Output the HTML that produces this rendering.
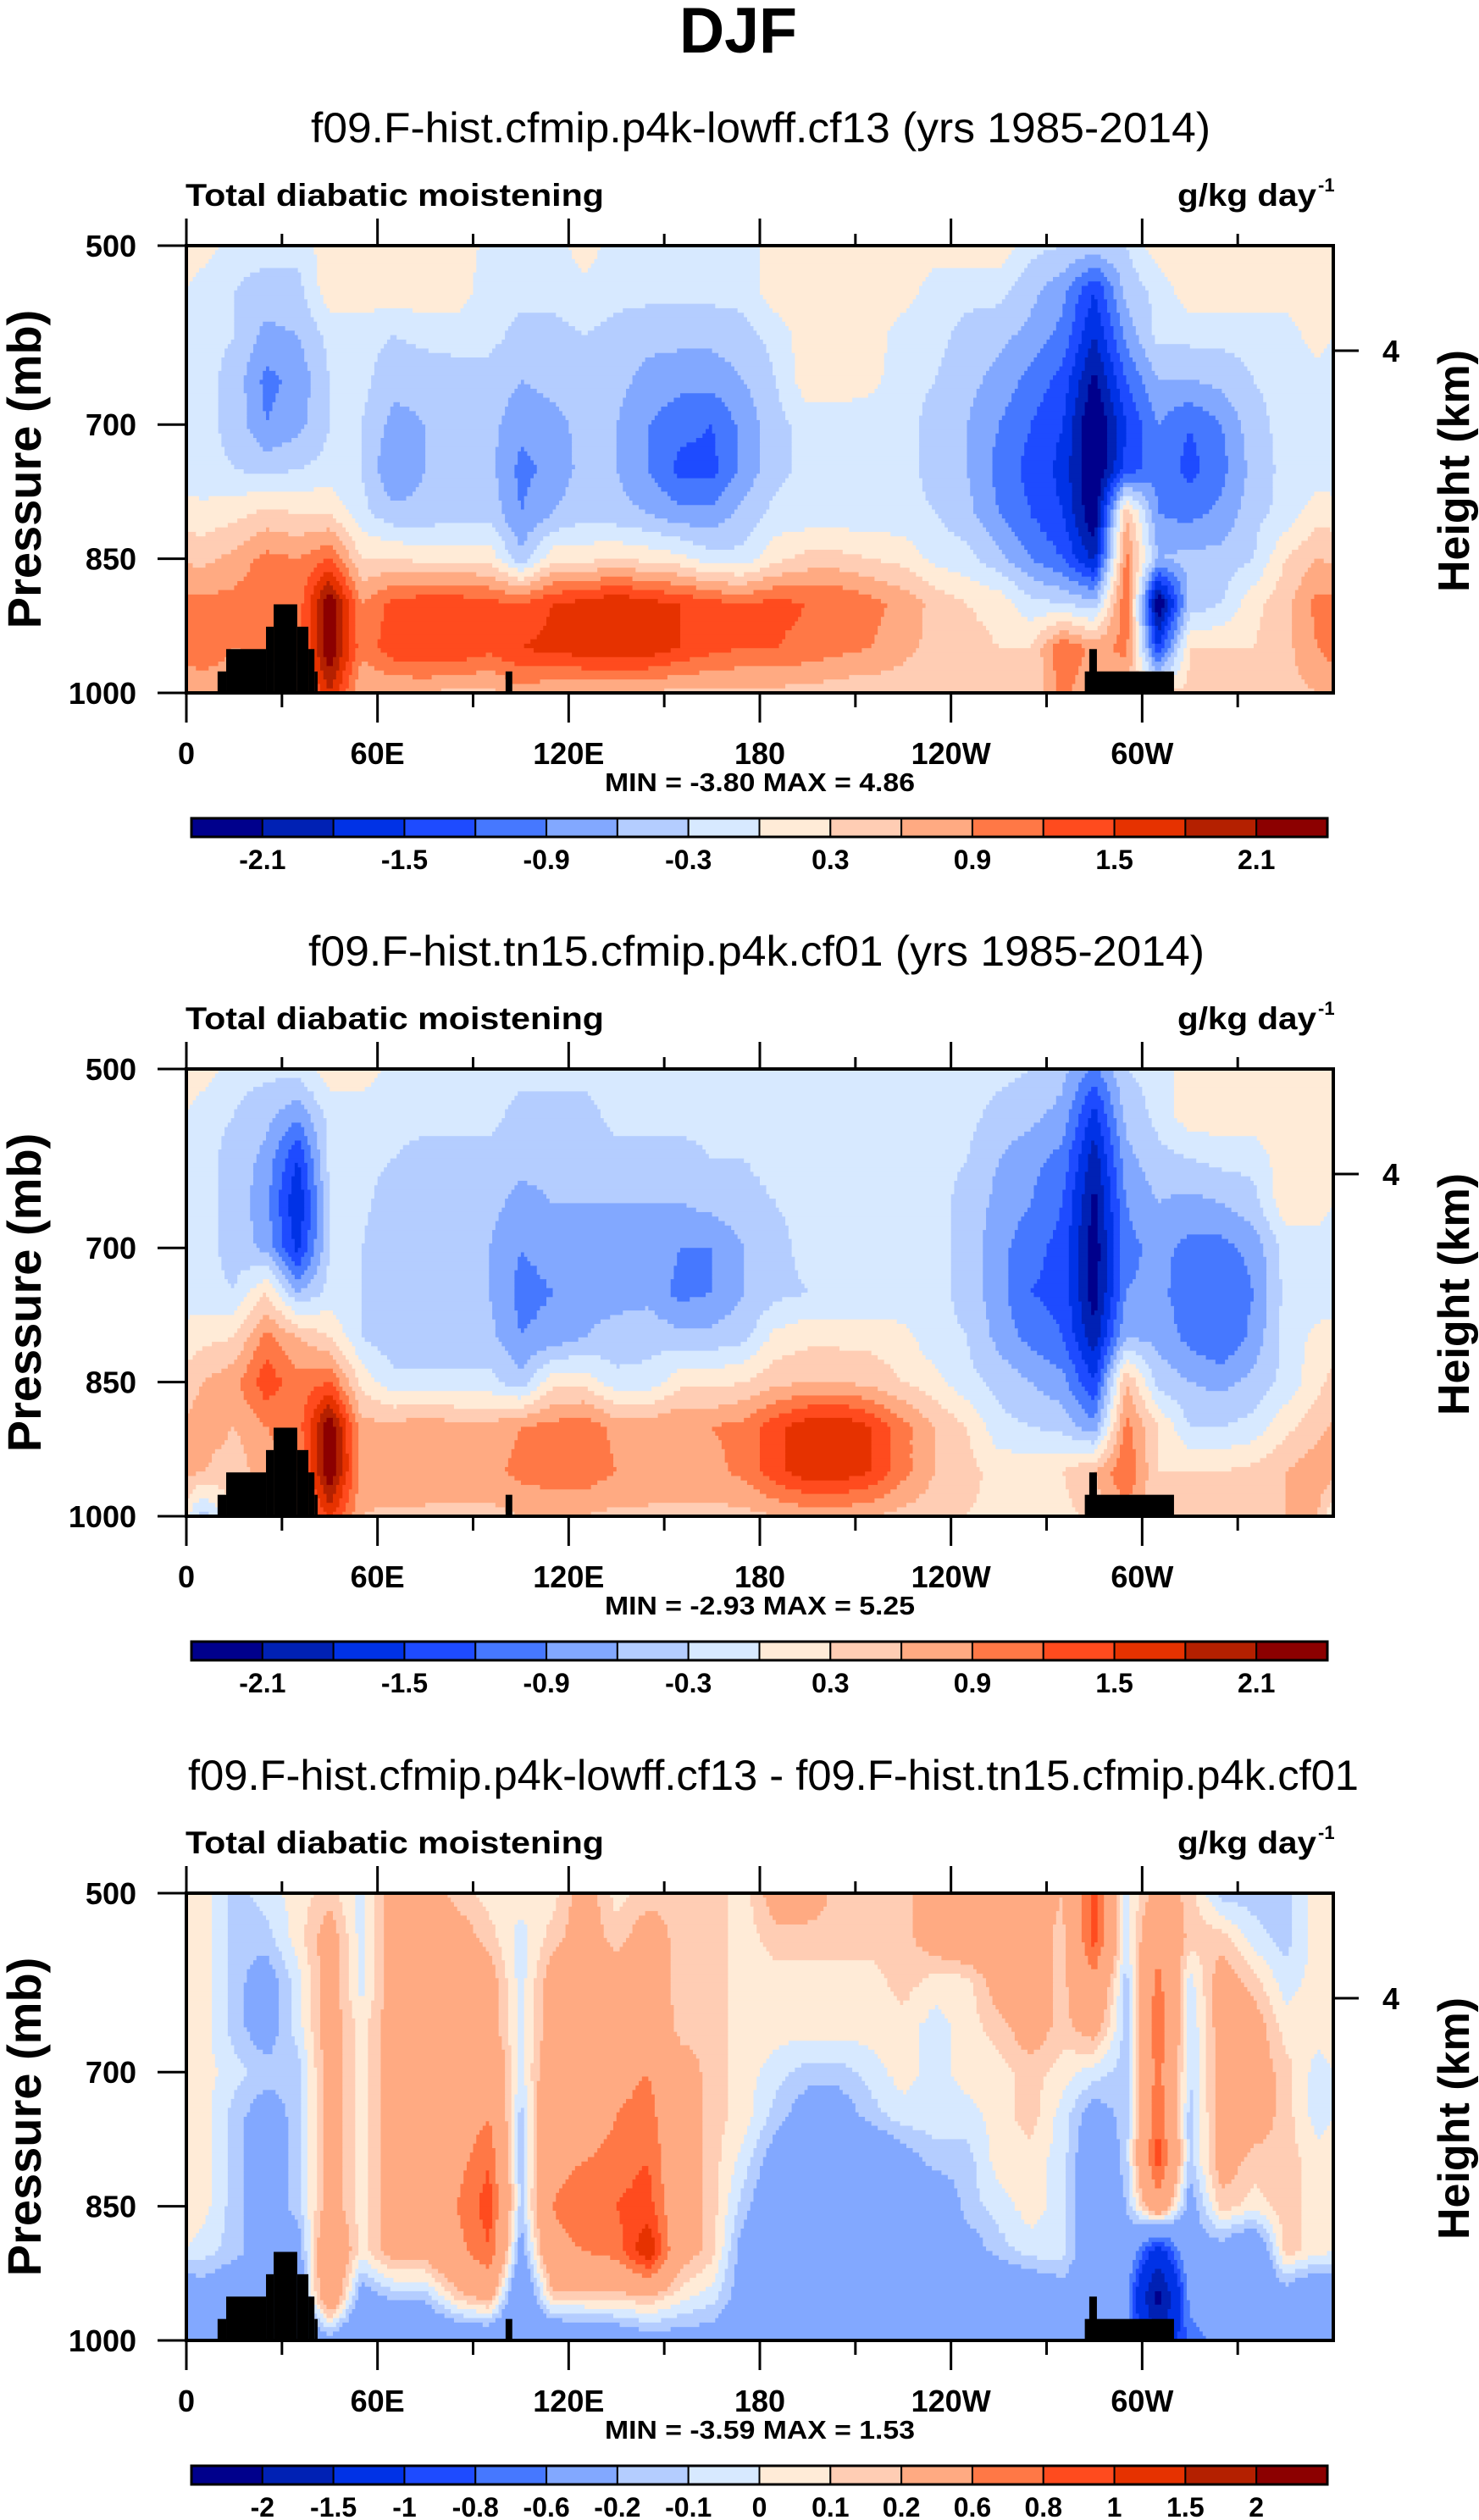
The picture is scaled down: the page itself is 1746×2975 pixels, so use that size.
<!DOCTYPE html>
<html><head><meta charset="utf-8">
<style>
html,body{margin:0;padding:0;background:#fff;}
svg{display:block;}
text{font-family:"Liberation Sans",sans-serif;fill:#000;}
</style></head>
<body>
<svg id="fig" width="1746" height="2975" viewBox="0 0 1746 2975" xmlns="http://www.w3.org/2000/svg">
<rect x="0" y="0" width="1746" height="2975" fill="#fff"/>
<text x="802" y="62" font-size="76" font-weight="bold" textLength="139" lengthAdjust="spacingAndGlyphs">DJF</text>
</svg>
<script>
// ---------- data ----------
const lonCenters=[5,15,25,35,45,55,65,75,85,95,105,115,125,135,145,155,165,175,185,195,205,215,225,235,245,255,265,275,285,295,305,315,325,335,345,355];
const pLevels=[500,550,600,650,700,750,800,850,900,950,1000];
const panel1=[
[0.2,-0.2,-0.2,-0.2,0.2,0.2,0.2,0.2,0.2,-0.1,-0.2,-0.2,0.2,-0.2,-0.2,-0.2,-0.2,-0.2,0.2,0.2,0.2,0.2,0.2,0.2,0.2,0.2,-0.2,-0.3,-0.4,-0.3,0.2,0.2,0.2,0.2,0.2,0.2],
[-0.2,-0.3,-0.4,-0.4,0.2,0.2,0.2,0.2,0.2,-0.2,-0.2,-0.2,-0.1,-0.2,-0.2,-0.2,-0.2,-0.2,0.2,0.2,0.2,0.2,0.2,-0.2,-0.2,-0.2,-0.5,-0.8,-1.5,-0.5,-0.2,0.2,0.2,0.2,0.2,0.2],
[-0.2,-0.3,-0.7,-0.6,-0.2,-0.2,-0.3,-0.2,-0.2,-0.2,-0.4,-0.4,-0.3,-0.4,-0.5,-0.5,-0.5,-0.4,-0.2,0.2,0.2,0.2,-0.2,-0.2,-0.4,-0.5,-0.7,-1.0,-1.8,-0.8,-0.2,-0.2,-0.2,-0.2,-0.2,0.2],
[-0.2,-0.4,-1.0,-0.8,-0.3,-0.2,-0.5,-0.5,-0.4,-0.4,-0.6,-0.5,-0.4,-0.5,-0.7,-0.8,-0.8,-0.6,-0.3,0.2,0.2,0.1,-0.2,-0.3,-0.5,-0.7,-1.0,-1.3,-2.2,-1.2,-0.6,-0.6,-0.5,-0.3,-0.2,-0.2],
[-0.2,-0.4,-0.9,-0.7,-0.3,-0.3,-0.7,-0.6,-0.5,-0.5,-0.8,-0.7,-0.5,-0.6,-0.9,-1.1,-1.2,-0.8,-0.4,-0.2,-0.2,-0.2,-0.2,-0.4,-0.6,-0.9,-1.2,-1.5,-2.5,-1.5,-0.9,-1.2,-0.9,-0.4,-0.2,-0.2],
[-0.2,-0.3,-0.4,-0.3,-0.2,-0.3,-0.9,-0.6,-0.5,-0.5,-1.0,-0.8,-0.5,-0.6,-0.9,-1.3,-1.3,-0.8,-0.4,-0.2,-0.2,-0.2,-0.2,-0.4,-0.6,-1.0,-1.3,-1.6,-2.5,-1.4,-1.0,-1.3,-1.0,-0.5,-0.2,-0.2],
[0.1,0.2,0.4,0.3,0.3,-0.2,-0.5,-0.5,-0.4,-0.4,-0.9,-0.6,-0.4,-0.5,-0.6,-0.8,-0.8,-0.5,-0.2,-0.2,-0.2,-0.2,-0.2,-0.3,-0.5,-0.9,-1.2,-1.5,-2.4,0.6,-0.9,-1.0,-0.8,-0.4,-0.2,0.2],
[0.5,0.7,1.0,0.9,1.2,0.3,0.3,0.2,0.2,0.2,-0.5,0.2,0.2,0.3,0.2,0.1,-0.2,-0.2,0.2,0.4,0.4,0.3,0.2,-0.1,-0.2,-0.5,-0.9,-1.2,-1.9,1.0,-0.6,-0.5,-0.5,-0.3,0.3,0.6],
[1.0,1.0,1.2,1.0,2.4,0.9,1.3,1.4,1.4,1.3,1.2,1.5,1.6,1.8,1.6,1.5,1.3,1.2,1.3,1.2,1.2,1.0,0.8,0.5,0.3,0.2,-0.2,-0.3,-0.5,1.2,-2.5,-0.5,-0.3,0.2,0.5,1.0],
[1.2,0.9,1.0,1.0,2.4,1.0,1.4,1.5,1.5,1.3,1.5,1.6,1.7,1.8,1.7,1.5,1.3,1.2,1.2,1.1,1.0,0.9,0.7,0.5,0.4,0.3,0.3,1.2,0.8,1.0,-1.5,0.3,0.3,0.3,0.5,0.9],
[0.6,0.6,0.6,0.6,1.8,0.6,0.6,0.6,0.5,0.5,0.8,0.6,0.6,0.6,0.6,0.5,0.5,0.5,0.5,0.5,0.4,0.4,0.4,0.3,0.3,0.3,0.3,1.0,0.6,0.6,0.3,0.4,0.4,0.4,0.5,0.6]];
const panel2=[
[0.2,-0.2,-0.2,-0.2,0.2,0.2,-0.1,-0.2,-0.2,-0.2,-0.2,-0.2,-0.2,-0.2,-0.2,-0.2,-0.2,-0.2,-0.2,-0.2,-0.2,-0.2,-0.2,-0.2,-0.2,-0.2,-0.3,-0.5,-1.0,-0.3,-0.2,0.2,0.2,0.2,0.2,0.2],
[-0.2,-0.3,-0.5,-0.8,-0.2,-0.2,-0.2,-0.2,-0.2,-0.2,-0.4,-0.4,-0.4,-0.2,-0.2,-0.2,-0.2,-0.2,-0.2,-0.2,-0.2,-0.2,-0.2,-0.2,-0.2,-0.4,-0.5,-0.7,-1.6,-0.5,-0.2,0.2,0.2,0.2,0.2,0.2],
[-0.2,-0.4,-0.7,-1.5,-0.2,-0.2,-0.3,-0.4,-0.4,-0.4,-0.5,-0.5,-0.5,-0.4,-0.4,-0.4,-0.3,-0.3,-0.2,-0.2,-0.2,-0.2,-0.2,-0.2,-0.3,-0.6,-0.8,-1.0,-2.0,-0.7,-0.4,-0.3,-0.2,-0.2,0.2,0.2],
[-0.2,-0.4,-0.8,-1.8,-0.3,-0.2,-0.5,-0.5,-0.5,-0.5,-0.7,-0.6,-0.6,-0.6,-0.6,-0.6,-0.5,-0.4,-0.3,-0.2,-0.2,-0.2,-0.2,-0.2,-0.4,-0.7,-0.9,-1.2,-2.2,-0.9,-0.6,-0.7,-0.6,-0.4,0.2,0.2],
[-0.2,-0.4,-0.7,-1.6,-0.3,-0.3,-0.6,-0.6,-0.6,-0.6,-0.9,-0.8,-0.7,-0.7,-0.7,-0.9,-0.9,-0.6,-0.4,-0.2,-0.2,-0.2,-0.2,-0.2,-0.4,-0.8,-1.1,-1.3,-2.3,-1.0,-0.8,-1.0,-1.0,-0.8,-0.2,-0.2],
[-0.2,-0.3,0.3,-0.6,-0.2,-0.3,-0.6,-0.6,-0.6,-0.6,-1.0,-0.9,-0.7,-0.7,-0.7,-1.0,-0.9,-0.6,-0.4,-0.3,-0.3,-0.3,-0.2,-0.2,-0.4,-0.8,-1.2,-1.3,-2.3,-0.9,-0.8,-1.1,-1.2,-0.9,-0.2,-0.2],
[0.2,0.3,1.0,0.6,0.3,-0.3,-0.5,-0.5,-0.5,-0.5,-0.9,-0.8,-0.6,-0.5,-0.4,-0.5,-0.5,-0.4,0.1,0.2,0.2,0.2,0.1,-0.2,-0.3,-0.7,-1.0,-1.2,-2.0,-0.6,-0.7,-1.0,-1.2,-0.8,-0.2,0.1],
[0.6,0.8,1.4,1.0,1.2,0.2,-0.2,-0.2,-0.2,-0.2,-0.5,0.2,0.2,-0.2,-0.2,0.2,0.2,0.3,0.5,0.6,0.6,0.5,0.3,0.1,-0.2,-0.4,-0.6,-0.8,-1.5,0.6,-0.4,-0.6,-0.7,-0.5,-0.2,0.2],
[0.8,0.6,0.9,1.0,2.4,0.7,0.7,0.8,0.7,0.7,0.9,1.0,1.1,0.8,0.8,0.9,0.9,1.0,1.4,1.7,1.8,1.5,1.0,0.6,0.3,-0.2,-0.3,-0.4,-0.8,1.0,0.3,-0.3,-0.3,-0.2,0.2,0.5],
[0.6,0.4,0.8,0.9,2.4,0.8,0.9,0.9,0.8,0.8,1.0,1.1,1.1,0.9,0.9,0.8,0.8,1.0,1.4,1.7,1.7,1.5,1.0,0.6,0.4,0.2,0.2,0.3,0.6,1.2,0.3,0.3,0.3,0.4,0.6,0.8],
[-0.5,0.4,0.5,0.6,1.6,0.6,0.5,0.5,0.5,0.5,0.6,0.6,0.6,0.5,0.5,0.5,0.5,0.5,0.6,0.7,0.7,0.6,0.5,0.4,0.3,0.2,0.2,0.2,0.4,0.8,0.4,0.4,0.4,0.4,0.6,0.6]];
const panel3=[
[0.05,-0.15,-0.05,0.05,0.15,-0.05,0.3,0.3,0.15,0.05,0.05,0.05,0.3,0.05,0.15,0.15,0.15,0.05,0.3,0.3,0.15,0.15,0.15,0.3,0.3,0.4,0.3,0.2,0.9,-0.05,0.3,0.15,-0.15,-0.15,-0.15,0.05],
[0.05,-0.15,-0.15,0.05,0.3,-0.05,0.3,0.3,0.3,0.15,-0.05,0.15,0.3,0.15,0.3,0.15,0.15,0.05,0.15,0.15,0.15,0.15,0.15,0.3,0.4,0.4,0.3,0.15,0.9,-0.05,0.5,0.15,0.15,-0.05,-0.15,0.05],
[0.05,-0.15,-0.3,-0.05,0.3,-0.05,0.3,0.3,0.3,0.3,-0.05,0.3,0.3,0.3,0.3,0.15,0.15,0.05,0.05,0.05,0.05,0.05,0.15,0.05,0.05,0.3,0.3,0.15,0.5,-0.15,0.7,-0.05,0.3,0.15,-0.05,0.05],
[0.05,-0.15,-0.3,-0.05,0.3,0.05,0.3,0.3,0.3,0.3,-0.05,0.3,0.3,0.3,0.4,0.15,0.15,0.05,0.05,0.05,0.05,0.05,0.05,-0.05,0.05,0.15,0.3,0.15,0.3,-0.15,0.8,-0.1,0.3,0.3,0.05,0.05],
[0.05,-0.05,-0.15,-0.15,0.3,0.05,0.3,0.3,0.4,0.5,-0.05,0.4,0.4,0.5,0.6,0.3,0.15,0.05,-0.05,-0.15,-0.15,-0.05,0.05,-0.05,0.05,0.05,0.15,0.05,-0.05,-0.15,0.7,-0.1,0.3,0.3,0.15,-0.05],
[0.05,-0.15,-0.3,-0.15,0.3,0.05,0.3,0.3,0.4,0.6,-0.15,0.5,0.4,0.6,0.7,0.3,0.15,0.05,-0.15,-0.3,-0.3,-0.15,-0.05,-0.05,-0.05,0.05,0.15,-0.05,-0.3,-0.15,0.8,-0.15,0.3,0.3,0.15,-0.05],
[0.05,-0.15,-0.3,-0.15,0.3,0.05,0.3,0.3,0.5,0.8,-0.15,0.5,0.6,0.7,0.8,0.3,0.15,-0.05,-0.3,-0.45,-0.45,-0.45,-0.3,-0.15,-0.15,0.05,0.05,-0.05,-0.4,-0.15,0.9,-0.15,0.3,0.15,0.15,0.05],
[0.05,-0.15,-0.3,-0.15,0.3,0.05,0.3,0.3,0.6,0.9,-0.15,0.6,0.8,0.8,0.9,0.3,0.15,-0.15,-0.4,-0.5,-0.5,-0.5,-0.5,-0.4,-0.15,-0.05,0.05,-0.05,-0.4,-0.2,0.5,-0.3,0.15,0.05,0.15,0.05],
[-0.05,-0.15,-0.3,-0.3,0.5,0.05,0.3,0.3,0.5,0.8,-0.3,0.5,0.6,0.7,1.2,0.3,0.15,-0.3,-0.5,-0.5,-0.55,-0.55,-0.5,-0.45,-0.3,-0.15,-0.05,-0.05,-0.4,-0.3,-1.2,-0.3,-0.3,-0.5,0.15,0.05],
[-0.3,-0.4,-0.4,-0.4,0.5,-0.3,-0.15,-0.15,0.15,0.3,-0.5,0.15,0.15,0.15,0.2,0.05,-0.05,-0.3,-0.45,-0.5,-0.5,-0.5,-0.5,-0.5,-0.5,-0.45,-0.4,-0.3,-0.4,-0.5,-2.2,-0.5,-0.5,-0.5,-0.3,-0.5],
[-0.5,-0.5,-0.5,-0.5,-0.3,-0.5,-0.5,-0.5,-0.45,-0.45,-0.5,-0.5,-0.45,-0.4,-0.3,-0.3,-0.3,-0.45,-0.5,-0.5,-0.5,-0.5,-0.5,-0.5,-0.5,-0.5,-0.5,-0.5,-0.5,-0.5,-1.5,-0.7,-0.5,-0.5,-0.5,-0.5]];
const levels12=[-2.1,-1.8,-1.5,-1.2,-0.9,-0.6,-0.3,0,0.3,0.6,0.9,1.2,1.5,1.8,2.1];
const levelLabels12=["-2.1","","-1.5","","-0.9","","-0.3","","0.3","","0.9","","1.5","","2.1"];
const levels3=[-2,-1.5,-1,-0.8,-0.6,-0.2,-0.1,0,0.1,0.2,0.6,0.8,1,1.5,2];
const levelLabels3=["-2","-1.5","-1","-0.8","-0.6","-0.2","-0.1","0","0.1","0.2","0.6","0.8","1","1.5","2"];
const palette=["#00008c","#0021b4","#0032e6","#1e4bff","#4678ff","#82a8ff","#b4cdff","#d7e9ff","#ffebd7","#ffcdb4","#ffaa82","#ff7846","#ff4b1e","#e63200","#b42000","#8c0000"];
const terrainLon0=[9.8,12.5,25,27.4,34.8,38.3,40.2,100.2,282,283.4];
const terrainLon1=[12.5,25,27.4,34.8,38.3,40.2,41.2,102.3,310,285.8];
const terrainP=[976,951,926,901,926,951,976,976,976,951];
const xTickLons=[0,60,120,180,240,300];
const xTickLabels=["0","60E","120E","180","120W","60W"];
const yTickPs=[500,700,850,1000];
const titles=["f09.F-hist.cfmip.p4k-lowff.cf13 (yrs 1985-2014)","f09.F-hist.tn15.cfmip.p4k.cf01 (yrs 1985-2014)","f09.F-hist.cfmip.p4k-lowff.cf13 - f09.F-hist.tn15.cfmip.p4k.cf01"];
const minmax=["MIN =  -3.80  MAX =   4.86","MIN =  -2.93  MAX =   5.25","MIN =  -3.59  MAX =   1.53"];

// ---------- drawing ----------
const NS="http://www.w3.org/2000/svg";
const svg=document.getElementById('fig');
const L=220,R=1574,T0=290,B0=818;
const offsets=[0,972,1945];
const titleGeom=[[367,1062],[364,1058],[222,1382]];
function xS(lon){return L+lon*(R-L)/360;}
function mk(tag,attrs,parent){const e=document.createElementNS(NS,tag);for(const k in attrs)e.setAttribute(k,attrs[k]);(parent||svg).appendChild(e);return e;}
function cls(v,lev){let i=0;while(i<lev.length&&v>=lev[i])i++;return i;}
function sample(grid,lon,p){
  let fi=(lon-5)/10; let i0=Math.floor(fi); let tx=fi-i0;
  const n=lonCenters.length; const a=((i0%n)+n)%n, b=(a+1)%n;
  let fj=(p-500)/50; let j0=Math.min(Math.floor(fj),9); if(j0<0)j0=0; let ty=fj-j0;
  const v00=grid[j0][a],v01=grid[j0][b],v10=grid[j0+1][a],v11=grid[j0+1][b];
  return (v00*(1-tx)+v01*tx)*(1-ty)+(v10*(1-tx)+v11*tx)*ty;
}
const grids=[panel1,panel2,panel3];
for(let k=0;k<3;k++){
  const off=offsets[k], T=T0+off, B=B0+off;
  const yS=p=>T+(p-500)*(B-T)/500;
  const g=mk('g',{});
  
  
  const lev=k<2?levels12:levels3;
  const grid=grids[k];
  const field=mk('g',{},g);
  
  
  const dl=1, dp=5;
  for(let p=500;p<1000;p+=dp){
    let runStart=0, runC=-1;
    for(let lon=0;lon<=360;lon+=dl){
      const c= lon<360 ? cls(sample(grid,lon+dl/2,p+dp/2),lev) : -2;
      if(c!==runC){
        if(runC>=0){
          const r=mk('rect',{x:xS(runStart).toFixed(2),y:yS(p).toFixed(2),width:(xS(lon)-xS(runStart)+0.6).toFixed(2),height:(yS(p+dp)-yS(p)+0.6).toFixed(2),fill:palette[runC]},field);
          
          
        }
        runStart=lon; runC=c;
      }
    }
  }
  for(let t=0;t<terrainP.length;t++){
    const r=mk('rect',{x:xS(terrainLon0[t]),y:yS(terrainP[t]),width:xS(terrainLon1[t])-xS(terrainLon0[t]),height:yS(1000)-yS(terrainP[t]),fill:'#000'},g);
    
    
  }
  const fr=mk('rect',{x:L,y:T,width:R-L,height:B-T,fill:'none',stroke:'#000','stroke-width':4},g);
  
  
  for(let lon=0;lon<360;lon+=30){
    const major=lon%60===0;
    const x=xS(lon);
    mk('line',{x1:x,x2:x,y1:T-(major?32:14),y2:T,stroke:'#000','stroke-width':3},g);
    mk('line',{x1:x,x2:x,y1:B,y2:B+(major?35:17),stroke:'#000','stroke-width':3},g);
  }
  xTickLons.forEach((lon,i)=>{
    const t=mk('text',{x:xS(lon),y:T+(902-290),'font-size':36,'font-weight':'bold','text-anchor':'middle'},g);
    t.textContent=xTickLabels[i];
    
    
  });
  yTickPs.forEach(p=>{
    const y=yS(p);
    mk('line',{x1:186,x2:L,y1:y,y2:y,stroke:'#000','stroke-width':3},g);
    const t=mk('text',{x:161,y:y+13,'font-size':36,'font-weight':'bold','text-anchor':'end'},g);
    t.textContent=String(p);
    
    
  });
  mk('line',{x1:R,x2:R+30,y1:T+124,y2:T+124,stroke:'#000','stroke-width':3},g);
  const r4=mk('text',{x:1632,y:T+137,'font-size':36,'font-weight':'bold'},g);
  r4.textContent='4';
  
  
  const st=mk('text',{x:titleGeom[k][0],y:T-122,'font-size':50,textLength:titleGeom[k][1],lengthAdjust:'spacingAndGlyphs'},g);
  st.textContent=titles[k];
  
  
  const lt=mk('text',{x:219,y:T-47,'font-size':37,'font-weight':'bold',textLength:494,lengthAdjust:'spacingAndGlyphs'},g);
  lt.textContent='Total diabatic moistening';
  
  
  const ut=mk('text',{x:1390,y:T-47,'font-size':37,'font-weight':'bold',textLength:164,lengthAdjust:'spacingAndGlyphs'},g);
  ut.textContent='g/kg day';
  
  
  const sup=mk('text',{x:1556,y:T-64,'font-size':22,'font-weight':'bold'},g);
  sup.textContent='-1';
  
  
  const yl=mk('text',{x:0,y:0,'font-size':56,'font-weight':'bold','text-anchor':'middle',transform:'translate(48,'+(T+264)+') rotate(-90)'},g);
  yl.textContent='Pressure (mb)';
  
  
  const hl=mk('text',{x:0,y:0,'font-size':52,'font-weight':'bold','text-anchor':'middle',transform:'translate(1734,'+(T+266)+') rotate(-90)'},g);
  hl.textContent='Height (km)';
  
  
  const mm=mk('text',{x:897,y:T+(934-290),'font-size':31,'font-weight':'bold','text-anchor':'middle',textLength:366,lengthAdjust:'spacingAndGlyphs'},g);
  mm.textContent=minmax[k];
  
  
  const cb=mk('g',{},g);
  
  
  const cx0=226,cx1=1567,cy=T+676,ch=22,bw=(cx1-cx0)/palette.length;
  palette.forEach((c,i)=>{
    const r=mk('rect',{x:cx0+i*bw,y:cy,width:bw,height:ch,fill:c,stroke:'#000','stroke-width':2},cb);
    
    
  });
  mk('rect',{x:cx0,y:cy,width:cx1-cx0,height:ch,fill:'none',stroke:'#000','stroke-width':3},cb);
  const labs=k<2?levelLabels12:levelLabels3;
  labs.forEach((s,i)=>{
    if(!s)return;
    const t=mk('text',{x:cx0+(i+1)*bw,y:cy+60,'font-size':32,'font-weight':'bold','text-anchor':'middle'},cb);
    t.textContent=s;
    
    
  });
}
</script>
</body></html>
